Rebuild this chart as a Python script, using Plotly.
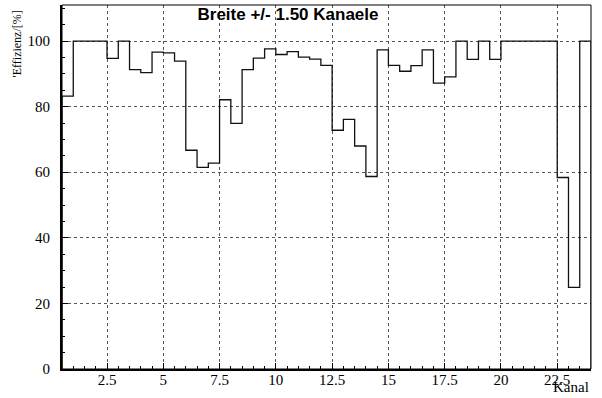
import plotly.graph_objects as go

# Histogram: bins of width 0.5 starting at 0.5
bin_start = 0.5
bin_width = 0.5
efficiency = [
    83.2, 100, 100, 100, 94.7, 100, 91.3, 90.4, 96.6, 96.4,
    93.9, 66.7, 61.5, 62.8, 82.1, 74.9, 91.3, 94.8, 97.6, 95.9,
    96.8, 95.1, 94.5, 92.6, 72.8, 76.1, 68.0, 58.7, 97.3, 92.6,
    90.8, 92.5, 97.3, 87.2, 89.1, 100, 94.4, 100, 94.4, 100,
    100, 100, 100, 100, 58.4, 24.9, 100,
]
x_ticks = [2.5, 5, 7.5, 10, 12.5, 15, 17.5, 20, 22.5]
x_ticklabels = ["2.5", "5", "7.5", "10", "12.5", "15", "17.5", "20", "22.5"]
y_ticks = [0, 20, 40, 60, 80, 100]

edges = [bin_start + i * bin_width for i in range(len(efficiency) + 1)]
xs = [edges[0]] + edges
ys = [0] + efficiency + [efficiency[-1]]

fig = go.Figure()
fig.add_trace(go.Scatter(
    x=xs, y=ys, mode="lines", line_shape="hv",
    line=dict(color="#111111", width=1.3), showlegend=False, hoverinfo="skip",
))
fig.add_trace(go.Scatter(
    x=[edges[-1], edges[-1]], y=[efficiency[-1], 0], mode="lines",
    line=dict(color="#111111", width=1.3), showlegend=False, hoverinfo="skip",
))

serif = "Liberation Serif, Times New Roman, serif"
fig.update_layout(
    width=602, height=398,
    margin=dict(l=62, r=11, t=5, b=29),
    paper_bgcolor="white", plot_bgcolor="white",
    font=dict(family=serif, size=14, color="black"),
    title=dict(text="<b>Breite +/- 1.50 Kanaele</b>", x=288/602, xanchor="center",
               y=1 - 14/398, yanchor="middle",
               font=dict(family="Liberation Sans, Arial, sans-serif", size=17, color="black")),
    xaxis=dict(
        range=[0.5, 24], tickvals=x_ticks, ticktext=x_ticklabels,
        ticks="inside", ticklen=6, tickwidth=1, tickcolor="black",
        minor=dict(dtick=0.5, tick0=0.5, ticks="inside", ticklen=3, tickcolor="black", showgrid=False),
        showgrid=True, gridcolor="#555555", griddash="dot", gridwidth=1,
        showline=True, linecolor="black", linewidth=2, zeroline=False,
        tickfont=dict(family=serif, size=15), ticklabelstandoff=-4,
    ),
    yaxis=dict(
        range=[0, 111], tickvals=y_ticks,
        ticks="inside", ticklen=6, tickwidth=1, tickcolor="black",
        minor=dict(dtick=5, ticks="inside", ticklen=3, tickcolor="black", showgrid=False),
        showgrid=True, gridcolor="#555555", griddash="dot", gridwidth=1,
        showline=True, linecolor="black", linewidth=2, zeroline=False,
        tickfont=dict(family=serif, size=15), ticklabelstandoff=7,
    ),
    shapes=[dict(type="rect", xref="paper", yref="paper", x0=0, x1=1, y0=0, y1=1,
                 line=dict(color="black", width=1), layer="above")],
    annotations=[
        dict(text="'Effizienz/[%]", xref="paper", yref="paper",
             x=(18 - 62) / 528.7, y=1 - (8 - 5) / 364, xanchor="center", yanchor="top",
             textangle=-90, showarrow=False, font=dict(family=serif, size=12)),
        dict(text="Kanal", xref="paper", yref="paper", x=1.0, y=(369 - 387) / 364,
             xanchor="right", yanchor="middle", showarrow=False,
             font=dict(family=serif, size=15)),
    ],
)

fig.write_html("out.html", config={"displayModeBar": False},
               post_script="document.body.style.margin='0';document.body.style.overflow='hidden';")
